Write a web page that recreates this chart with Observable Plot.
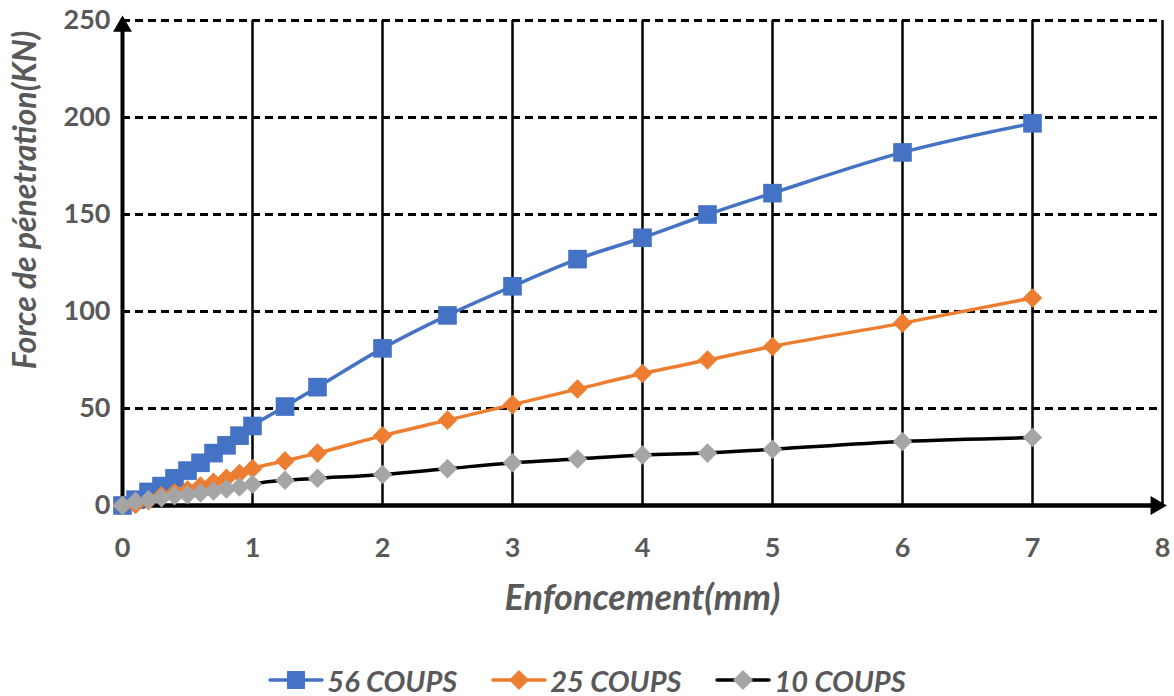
<!DOCTYPE html>
<html>
<head>
<meta charset="utf-8">
<script src="https://cdn.jsdelivr.net/npm/d3@7"></script>
<script src="https://cdn.jsdelivr.net/npm/@observablehq/plot@0.6"></script>
<style>
  html, body { margin: 0; padding: 0; background: #fff; }
  #chart svg { display: block; }
  #legend {
    display: flex; justify-content: center; align-items: center;
    height: 80px; gap: 34px;
    font-family: Lato, "Open Sans", sans-serif; font-weight: bold; font-style: italic;
    font-size: 29px; color: #595959;
  }
  .item { display: flex; align-items: center; gap: 3px; }
</style>
</head>
<body>
<div id="chart"></div>
<div id="legend"></div>
<script>
// Penetration depth (mm)
const depth = [0, 0.1, 0.2, 0.3, 0.4, 0.5, 0.6, 0.7, 0.8, 0.9, 1, 1.25, 1.5, 2, 2.5, 3, 3.5, 4, 4.5, 5, 6, 7];
// Penetration force (kN) for each compaction energy
const coups56 = [0, 3, 7, 10, 14, 18, 22, 27, 31, 36, 41, 51, 61, 81, 98, 113, 127, 138, 150, 161, 182, 197];
const coups25 = [0, 0.5, 2.5, 5, 6.5, 8, 10, 12, 14, 16.5, 19, 23, 27, 36, 44, 52, 60, 68, 75, 82, 94, 107];
const coups10 = [0, 2, 3, 4, 5, 5.5, 6.5, 7.5, 8.5, 9.5, 11, 13, 14, 16, 19, 22, 24, 26, 27, 29, 33, 35];

const seriesNames = ["56 COUPS", "25 COUPS", "10 COUPS"];
const lineColors = ["#4472C4", "#ED7D31", "#000000"];
const markerColors = ["#4472C4", "#ED7D31", "#A5A5A5"];
const markerSymbols = ["square", "diamond2", "diamond2"];
const markerSizes = [10.5, 8.8, 8.8];

const xTicks = [0, 1, 2, 3, 4, 5, 6, 7, 8];
const yTicks = [0, 50, 100, 150, 200, 250];
const xTitle = "Enfoncement(mm)";
const yTitle = "Force de pénetration(KN)";

const values = [coups56, coups25, coups10];
const series = values.map((ys, i) => depth.map((d, j) => ({x: d, y: ys[j], name: seriesNames[i]})));

const font = "Lato, 'Open Sans', sans-serif";
const grey = "#595959";

const seriesMarks = series.flatMap((data, i) => [
  Plot.line(data, {x: "x", y: "y", stroke: lineColors[i], strokeWidth: 3.5, curve: "monotone-x"}),
  Plot.dot(data, {x: "x", y: "y", symbol: markerSymbols[i], r: markerSizes[i], fill: markerColors[i], stroke: "none"})
]);

const chart = Plot.plot({
  width: 1174,
  height: 640,
  marginLeft: 122,
  marginRight: 12,
  marginTop: 20,
  marginBottom: 135,
  style: {fontFamily: font, background: "#fff"},
  x: {domain: [0, 8], ticks: xTicks, label: null},
  y: {domain: [0, 250], ticks: yTicks, label: null},
  marks: [
    // solid vertical grid
    Plot.ruleX(xTicks.slice(1), {y1: 0, y2: 250, stroke: "#000", strokeWidth: 2.5}),
    // dashed horizontal grid
    Plot.ruleY(yTicks.slice(1), {x1: 0, x2: 8, stroke: "#000", strokeWidth: 3, strokeDasharray: "8,5"}),
    // axis lines with arrow heads
    Plot.ruleY([0], {x1: 0, x2: 7.93, stroke: "#000", strokeWidth: 4.5}),
    Plot.ruleX([0], {y1: 0, y2: 246, stroke: "#000", strokeWidth: 4}),
    Plot.dot([{x: 7.95, y: 0}], {x: "x", y: "y", symbol: "triangle", rotate: 90, r: 7, fill: "#000"}),
    Plot.dot([{x: 0, y: 247}], {x: "x", y: "y", symbol: "triangle", r: 7, fill: "#000"}),
    Plot.axisX(xTicks, {tickSize: 0, tickPadding: 32, tickFormat: "d", fontSize: 27, fontWeight: "bold", fill: grey}),
    Plot.axisY(yTicks, {tickSize: 0, tickPadding: 12, tickFormat: "d", fontSize: 27, fontWeight: "bold", fill: grey}),
    Plot.text([xTitle], {frameAnchor: "bottom", dy: 104, fontSize: 36, fontWeight: "bold", fontStyle: "italic", fill: grey}),
    Plot.text([yTitle], {frameAnchor: "left", textAnchor: "middle", dx: -97, dy: -63, rotate: -90, fontSize: 32, fontWeight: "bold", fontStyle: "italic", fill: grey}),
    ...seriesMarks
  ]
});
document.getElementById("chart").appendChild(chart);

// Legend
const legend = document.getElementById("legend");
seriesNames.forEach((name, i) => {
  const item = document.createElement("div");
  item.className = "item";
  const sw = d3.create("svg").attr("width", 56).attr("height", 24);
  sw.append("line").attr("x1", 2).attr("x2", 54).attr("y1", 12).attr("y2", 12)
    .attr("stroke", lineColors[i]).attr("stroke-width", 3.5).attr("stroke-linecap", "round");
  if (markerSymbols[i] === "square") {
    sw.append("rect").attr("x", 19).attr("y", 3).attr("width", 18).attr("height", 18).attr("fill", markerColors[i]);
  } else {
    sw.append("path").attr("d", "M28,2L38,12L28,22L18,12Z").attr("fill", markerColors[i]);
  }
  item.appendChild(sw.node());
  const label = document.createElement("span");
  label.textContent = name;
  item.appendChild(label);
  legend.appendChild(item);
});
</script>
</body>
</html>
